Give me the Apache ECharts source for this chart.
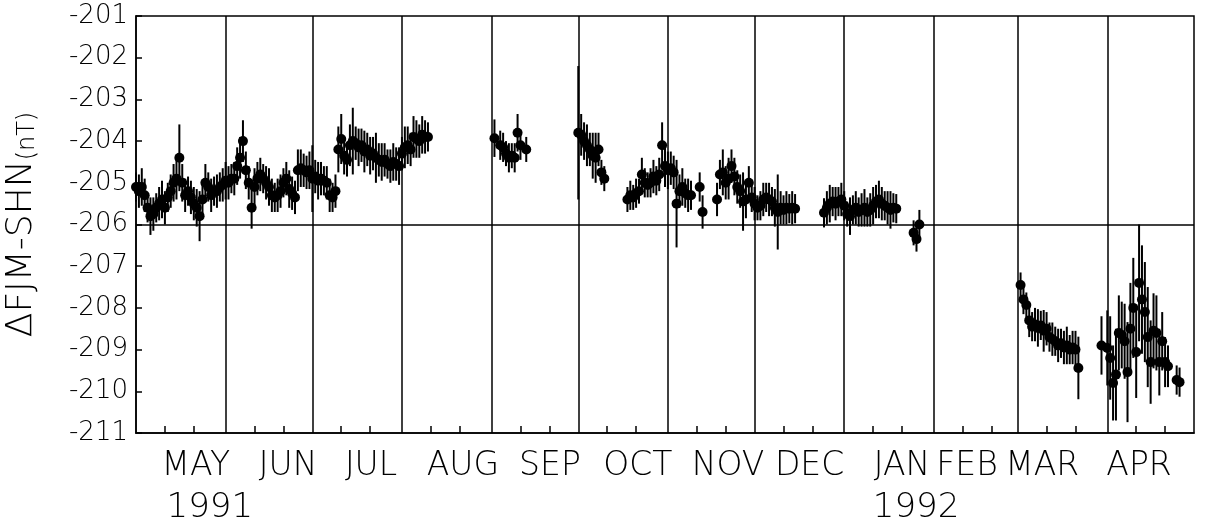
<!DOCTYPE html>
<html>
<head>
<meta charset="utf-8">
<title>FJM - SHN difference 1991-1992</title>
<script src="https://cdn.jsdelivr.net/npm/echarts@6/dist/echarts.min.js"></script>
<style>
  html, body { margin: 0; padding: 0; background: #fff; }
  #main { width: 1211px; height: 526px; }
</style>
</head>
<body>
<div id="main"></div>
<script type="text/javascript">
// x is counted in days from 1 May 1991
var monthNames = ['MAY', 'JUN', 'JUL', 'AUG', 'SEP', 'OCT', 'NOV', 'DEC', 'JAN', 'FEB', 'MAR', 'APR'];
var monthStart = [0, 31, 61, 92, 123, 153, 184, 214, 245, 276, 305, 336, 366];
var yearOfMonth = { 0: '1991', 8: '1992' };
var yTickLabels = [-211, -210, -209, -208, -207, -206, -205, -204, -203, -202, -201];

// daily differences (nT) and half length of the error bars
var days = [
  0, 1, 2, 3, 4, 5, 6, 7, 8, 9, 10, 11, 12, 13, 14, 15, 16, 17, 18, 19,
  20, 21, 22, 23, 24, 25, 26, 27, 28, 29, 30, 31, 32, 33, 34, 35, 36, 37, 38, 39,
  40, 41, 42, 43, 44, 45, 46, 47, 48, 49, 50, 51, 52, 53, 54, 55, 56, 57, 58, 59,
  60, 61, 62, 63, 64, 65, 66, 67, 68, 69, 70, 71, 72, 73, 74, 75, 76, 77, 78, 79,
  80, 81, 82, 83, 84, 85, 86, 87, 88, 89, 90, 91, 92, 93, 94, 95, 96, 97, 98, 99,
  100, 101,
  124, 126, 127, 128, 129, 130, 131, 132, 133, 135,
  153, 154, 155, 156, 157, 158, 159, 160, 161, 162,
  170, 171, 172, 173, 174, 175, 176, 177, 178, 179, 180, 181, 182, 183, 184, 185, 186, 187, 188, 189, 190, 191, 192,
  195, 196,
  201, 202, 203, 204, 205, 206, 207, 208, 209, 210, 211, 212, 213, 214, 215, 216, 217, 218, 219, 220,
  221, 222, 223, 224, 225, 226, 227, 228,
  238, 239, 240, 241, 242, 243, 244, 245, 246, 247, 248, 249, 250, 251, 252, 253, 254, 255, 256, 257,
  258, 259, 260, 261, 262, 263,
  269, 270, 271,
  306, 307, 308, 309, 310, 311, 312, 313, 314, 315, 316, 317, 318, 319, 320, 321, 322, 323, 324, 325, 326,
  334, 336, 337, 338, 339, 340, 341, 342, 343, 344, 345, 346, 347, 348, 349, 350, 351, 352, 353, 354,
  355, 356, 357, 360, 361
];
var values = [
  -205.1, -205.2, -205.1, -205.3, -205.6, -205.8, -205.75, -205.6, -205.5, -205.4,
  -205.6, -205.35, -205.2, -205.0, -204.9, -204.4, -205.0, -205.3, -205.2, -205.35,
  -205.5, -205.6, -205.8, -205.4, -205.0, -205.1, -205.3, -205.2, -205.2, -205.1,
  -205.05, -204.95, -205.0, -204.9, -204.9, -204.6, -204.4, -204.0, -204.7, -205.0,
  -205.6, -205.1, -204.9, -204.8, -204.9, -205.0, -205.1, -205.3, -205.35, -205.3,
  -205.2, -205.0, -204.9, -205.15, -205.25, -205.35, -204.7, -204.65, -204.7, -204.75,
  -204.7, -204.9, -204.85, -204.95, -204.9, -204.95, -205.0, -205.3, -205.35, -205.2,
  -204.2, -203.95, -204.35, -204.45, -204.1, -204.0, -204.05, -204.15, -204.1, -204.25,
  -204.2, -204.35, -204.3, -204.4, -204.45, -204.5, -204.45, -204.55, -204.6, -204.5,
  -204.55, -204.6, -204.3, -204.15, -204.1, -204.2, -203.9, -203.95, -204.0, -203.85,
  -203.9, -203.9,
  -203.93, -204.1, -204.15, -204.3, -204.4, -204.35, -204.4, -203.8, -204.1, -204.2,
  -203.8, -203.85, -204.0, -204.1, -204.2, -204.35, -204.4, -204.2, -204.75, -204.9,
  -205.4, -205.3, -205.35, -205.25, -205.2, -204.8, -205.0, -205.05, -205.0, -204.85,
  -204.95, -204.8, -204.1, -204.6, -204.7, -204.65, -204.75, -205.5, -205.2, -205.1,
  -205.25, -205.3, -205.3,
  -205.1, -205.7,
  -205.4, -204.8, -204.75, -205.0, -204.9, -204.6, -204.85, -205.1, -205.2, -205.45,
  -205.4, -205.0, -205.35, -205.5, -205.6, -205.55, -205.4, -205.35, -205.4, -205.45,
  -205.6, -205.7, -205.6, -205.65, -205.6, -205.62, -205.6, -205.62,
  -205.72, -205.6, -205.5, -205.45, -205.5, -205.45, -205.4, -205.55, -205.75, -205.8,
  -205.65, -205.6, -205.7, -205.65, -205.6, -205.7, -205.65, -205.55, -205.45, -205.4,
  -205.5, -205.55, -205.6, -205.65, -205.6, -205.62,
  -206.2, -206.35, -206.0,
  -207.45, -207.8, -207.93, -208.3, -208.45, -208.4, -208.48, -208.42, -208.55, -208.5,
  -208.7, -208.75, -208.8, -208.9, -208.85, -208.95, -208.9, -209.0, -208.95, -209.0, -209.44,
  -208.9, -208.96, -209.2, -209.8, -209.6, -208.6, -208.65, -208.8, -209.54, -208.5,
  -208.0, -209.06, -207.4, -207.8, -208.1, -208.7, -209.3, -208.55, -208.6, -209.3,
  -208.8, -209.3, -209.4, -209.73, -209.78
];
var errs = [
  0.35, 0.4, 0.45, 0.4, 0.35, 0.45, 0.4, 0.35, 0.4, 0.45,
  0.4, 0.35, 0.4, 0.45, 0.5, 0.8, 0.45, 0.4, 0.35, 0.4,
  0.4, 0.45, 0.6, 0.4, 0.45, 0.35, 0.4, 0.35, 0.4, 0.35,
  0.4, 0.45, 0.4, 0.35, 0.4, 0.45, 0.5, 0.5, 0.45, 0.4,
  0.5, 0.45, 0.4, 0.4, 0.35, 0.4, 0.45, 0.4, 0.35, 0.4,
  0.4, 0.35, 0.4, 0.45, 0.4, 0.4, 0.5, 0.45, 0.4, 0.4,
  0.45, 0.8, 0.4, 0.45, 0.4, 0.35, 0.4, 0.4, 0.35, 0.4,
  0.55, 0.6, 0.45, 0.4, 0.5, 0.8, 0.4, 0.45, 0.4, 0.5,
  0.4, 0.45, 0.4, 0.6, 0.4, 0.45, 0.4, 0.35, 0.4, 0.45,
  0.4, 0.45, 0.4, 0.5, 0.45, 0.4, 0.5, 0.45, 0.4, 0.45,
  0.4, 0.35,
  0.45, 0.35, 0.35, 0.3, 0.35, 0.3, 0.35, 0.45, 0.35, 0.3,
  1.6, 0.5, 0.45, 0.5, 0.4, 0.55, 0.6, 0.4, 0.3, 0.3,
  0.3, 0.35, 0.3, 0.35, 0.3, 0.4, 0.35, 0.3, 0.35, 0.4,
  0.35, 0.4, 0.55, 0.5, 0.45, 0.4, 0.4, 1.05, 0.4, 0.45,
  0.35, 0.4, 0.35,
  0.35, 0.4,
  0.4, 0.35, 0.55, 0.4, 0.5, 0.4, 0.45, 0.4, 0.4, 0.7,
  0.45, 0.4, 0.35, 0.4, 0.3, 0.35, 0.4, 0.35, 0.4, 0.35,
  0.45, 0.9, 0.4, 0.35, 0.4, 0.35, 0.4, 0.35,
  0.35, 0.4, 0.45, 0.35, 0.4, 0.35, 0.4, 0.35, 0.3, 0.45,
  0.35, 0.4, 0.35, 0.4, 0.45, 0.35, 0.4, 0.45, 0.4, 0.45,
  0.4, 0.35, 0.4, 0.45, 0.35, 0.35,
  0.3, 0.3, 0.35,
  0.3, 0.35, 0.3, 0.4, 0.35, 0.4, 0.45, 0.35, 0.5, 0.4,
  0.35, 0.4, 0.35, 0.4, 0.35, 0.4, 0.45, 0.35, 0.4, 0.45, 0.75,
  0.7, 0.9, 1.0, 0.9, 1.1, 0.9, 0.8, 0.9, 1.2, 1.1,
  1.2, 1.1, 1.4, 1.3, 1.2, 1.2, 1.0, 0.9, 0.9, 0.8,
  0.7, 0.6, 0.5, 0.35, 0.35
];

// where each month name sits along the axis (days), as typed on the original figure
var monthLabelAt = [20.7, 52.6, 81.3, 113.1, 143.2, 173.6, 204.8, 233, 265, 287.5, 313.5, 347];

var chart = echarts.init(document.getElementById('main'));

var points = days.map(function (d, i) { return [d, values[i]]; });
var bars = days.map(function (d, i) { return [d, values[i] - errs[i], values[i] + errs[i]]; });

// minor ticks every ten days inside each month
var tickDays = [];
for (var m = 0; m < 12; m++) {
  tickDays.push(monthStart[m] + 10, monthStart[m] + 20);
}

var fontFam = 'DejaVu Sans';

var monthLines = monthStart.slice(1, 12).map(function (d) { return { xAxis: d }; });
monthLines.push({ yAxis: -206 });

var option = {
  animation: false,
  backgroundColor: '#fff',
  textStyle: { fontFamily: fontFam, color: '#000' },
  grid: {
    left: 136, right: 17, top: 16, bottom: 93,
    outerBoundsMode: 'none',
    show: true, borderColor: '#000', borderWidth: 1.5
  },
  xAxis: {
    type: 'value',
    min: 0,
    max: 366,
    axisLine: { lineStyle: { color: '#000', width: 1.5 } },
    axisTick: { show: true, inside: true, length: 7, customValues: tickDays, lineStyle: { color: '#000', width: 1.5 } },
    splitLine: { show: false },
    axisLabel: {
      customValues: monthLabelAt,
      margin: 13,
      color: '#000',
      fontFamily: fontFam,
      fontWeight: 200,
      fontSize: 33,
      lineHeight: 42,
      formatter: function (v) {
        var idx = 0;
        for (var k = 0; k < monthLabelAt.length; k++) {
          if (Math.abs(monthLabelAt[k] - v) < 0.01) idx = k;
        }
        var s = '{m|' + monthNames[idx] + '}';
        if (yearOfMonth[idx]) s += '\n{y|' + yearOfMonth[idx] + '}';
        return s;
      },
      rich: {
        m: { fontSize: 33, lineHeight: 40, fontFamily: fontFam, fontWeight: 200, color: '#000' },
        y: { fontSize: 34, lineHeight: 44, fontFamily: fontFam, fontWeight: 200, color: '#000', padding: [0, 0, 0, 28] }
      }
    }
  },
  yAxis: {
    type: 'value',
    min: yTickLabels[0],
    max: yTickLabels[yTickLabels.length - 1],
    interval: 1,
    name: '{a|ΔFJM-SHN}{b|(nT)}',
    nameLocation: 'middle',
    nameGap: 96,
    nameTextStyle: {
      rich: {
        a: { fontSize: 36, fontFamily: fontFam, fontWeight: 200, color: '#000', verticalAlign: 'bottom' },
        b: { fontSize: 24, fontFamily: fontFam, fontWeight: 200, color: '#000', verticalAlign: 'bottom' }
      }
    },
    axisLine: { show: true, lineStyle: { color: '#000', width: 1.5 } },
    axisTick: { show: true, inside: true, length: 6, lineStyle: { color: '#000', width: 1.5 } },
    splitLine: { show: false },
    axisLabel: {
      margin: 8,
      color: '#000',
      fontFamily: fontFam,
      fontWeight: 200,
      fontSize: 26,
      formatter: function (v) { return String(v); }
    }
  },
  series: [
    {
      type: 'custom',
      name: 'error',
      data: bars,
      encode: { x: 0, y: [1, 2] },
      renderItem: function (params, api) {
        var lo = api.coord([api.value(0), api.value(1)]);
        var hi = api.coord([api.value(0), api.value(2)]);
        return {
          type: 'line',
          shape: { x1: lo[0], y1: lo[1], x2: hi[0], y2: hi[1] },
          style: { stroke: '#000', lineWidth: 2 }
        };
      },
      z: 2
    },
    {
      type: 'scatter',
      name: 'FJM-SHN',
      data: points,
      symbol: 'circle',
      symbolSize: 10,
      itemStyle: { color: '#000', opacity: 1 },
      z: 3,
      markLine: {
        silent: true,
        symbol: 'none',
        label: { show: false },
        lineStyle: { color: '#000', width: 1.5, type: 'solid' },
        data: monthLines
      }
    }
  ]
};

chart.setOption(option);
</script>
</body>
</html>
